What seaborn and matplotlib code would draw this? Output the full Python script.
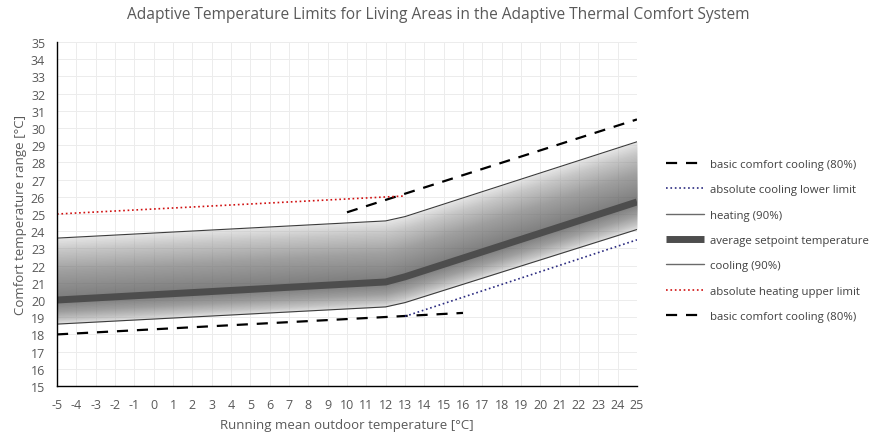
import numpy as np
import pandas as pd
import seaborn as sns
import matplotlib.pyplot as plt
from matplotlib.lines import Line2D

# comfort band (heating 90% upper edge, average setpoint, cooling 90% lower edge)
band_x = [-5, 12, 13, 25]
heating_90 = [23.6, 24.6, 24.85, 29.2]
avg_setpoint = [20.0, 21.05, 21.35, 25.7]
cooling_90 = [18.6, 19.6, 19.85, 24.1]

# basic comfort (80%) dashed lines
basic_upper_x = [10, 25]
basic_upper_y = [25.1, 30.5]
basic_lower_x = [-5, 16]
basic_lower_y = [18.0, 19.25]

# absolute limits
abs_cool_x = [13, 25]
abs_cool_y = [19.05, 23.5]
abs_heat_x = [-5, 13]
abs_heat_y = [25.0, 26.05]

sns.set_style("white")
plt.rcParams['font.family'] = ['Open Sans', 'DejaVu Sans']
plt.rcParams['axes.unicode_minus'] = False

txt = "#595959"
fig = plt.figure(figsize=(8.8, 4.35), dpi=100)
ax = fig.add_axes([0.0648, 0.1103, 0.659, 0.7908])

# gradient band: stacked translucent fills, darker towards the average line
hx = np.array(band_x, float)
up = np.array(heating_90)
mid = np.array(avg_setpoint)
lo = np.array(cooling_90)
ax.fill_between(hx, lo, up, color="#d0d0d0", alpha=0.5, lw=0, zorder=1)
for f in np.linspace(1, 0.02, 40):
    ax.fill_between(hx, mid - (mid - lo) * f, mid + (up - mid) * f,
                    color="#5a5a5a", alpha=0.028, lw=0, zorder=1)

df_band = pd.DataFrame({"x": band_x, "heat": heating_90, "avg": avg_setpoint, "cool": cooling_90})
sns.lineplot(data=df_band, x="x", y="heat", ax=ax, color="#3c3c3c", lw=0.8, zorder=3)
sns.lineplot(data=df_band, x="x", y="cool", ax=ax, color="#3c3c3c", lw=0.8, zorder=3)
sns.lineplot(data=df_band, x="x", y="avg", ax=ax, color="#4d4d4d", lw=5, zorder=4)
ax.lines[-1].set_solid_capstyle("butt")

sns.lineplot(x=basic_upper_x, y=basic_upper_y, ax=ax, color="black", lw=1.6,
             zorder=5).lines[-1].set_dashes([5, 4])
sns.lineplot(x=basic_lower_x, y=basic_lower_y, ax=ax, color="black", lw=1.6,
             zorder=5).lines[-1].set_dashes([5, 4])
sns.lineplot(x=abs_cool_x, y=abs_cool_y, ax=ax, color="#2b2b80", lw=1.2, zorder=5).lines[-1].set_linestyle(":")
sns.lineplot(x=abs_heat_x, y=abs_heat_y, ax=ax, color="#d01010", lw=1.2, zorder=5).lines[-1].set_linestyle(":")

ax.set_xlim(-5, 25)
ax.set_ylim(15, 35)
ax.set_xticks(range(-5, 26))
ax.set_yticks(range(15, 36))
ax.grid(True, color="#ececec", lw=0.7, zorder=0)
ax.set_axisbelow(True)
for s in ["top", "right"]:
    ax.spines[s].set_visible(False)
for s in ["left", "bottom"]:
    ax.spines[s].set_color("black")
    ax.spines[s].set_linewidth(1.0)
    ax.spines[s].set_zorder(6)
ax.tick_params(axis="both", direction="inout", length=7, width=1.0, color="black",
               labelsize=9, labelcolor=txt, pad=5)

ax.set_xlabel("Running mean outdoor temperature [°C]", fontsize=9.5, color=txt, labelpad=5)
ax.set_ylabel("Comfort temperature range [°C]", fontsize=9.5, color=txt, labelpad=3)
fig.suptitle("Adaptive Temperature Limits for Living Areas in the Adaptive Thermal Comfort System",
             x=0.498, y=0.985, fontsize=11.2, color=txt)

handles = [
    Line2D([], [], color="black", lw=1.6, dashes=[5, 4]),
    Line2D([], [], color="#2b2b80", lw=1.2, ls=":"),
    Line2D([], [], color="#6a6a6a", lw=1.0),
    Line2D([], [], color="#4d4d4d", lw=5, solid_capstyle="butt"),
    Line2D([], [], color="#6a6a6a", lw=1.0),
    Line2D([], [], color="#d01010", lw=1.2, ls=":"),
    Line2D([], [], color="black", lw=1.6, dashes=[5, 4]),
]
labels = ["basic comfort cooling (80%)", "absolute cooling lower limit", "heating (90%)",
          "average setpoint temperature", "cooling (90%)", "absolute heating upper limit",
          "basic comfort cooling (80%)"]
leg = fig.legend(handles, labels, loc="upper left", bbox_to_anchor=(0.752, 0.643),
                 frameon=False, fontsize=8.2, handlelength=3.3, handletextpad=0.5,
                 labelspacing=1.26, borderaxespad=0)
for t in leg.get_texts():
    t.set_color("#404040")

fig.savefig("out.png", dpi=100)
